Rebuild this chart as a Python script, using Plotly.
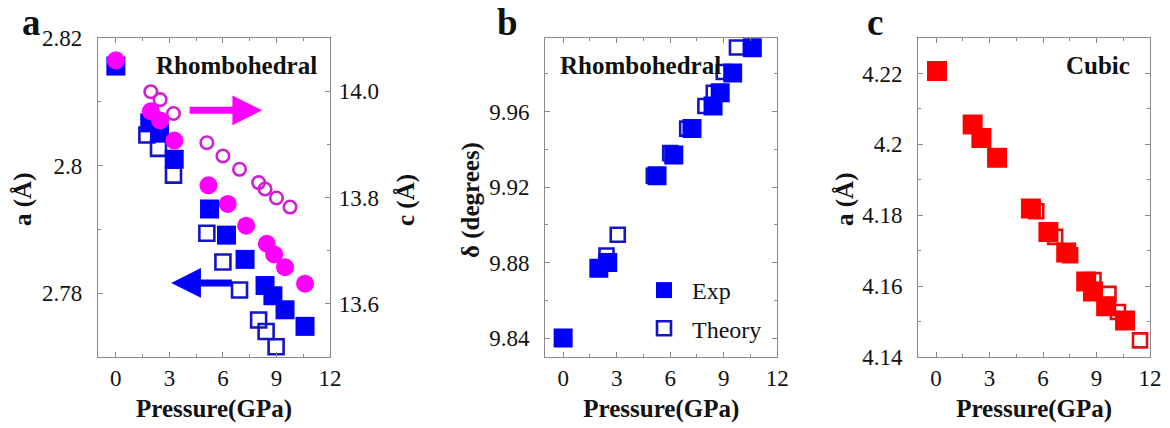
import plotly.graph_objects as go

# ---------------- data ----------------
# Panel a : rhombohedral lattice parameters
a_exp_p = [0, 1.9, 2.45, 3.27, 5.25, 6.2, 7.24, 8.36, 8.8, 9.48, 10.6]
a_exp = [2.8156, 2.8067, 2.8051, 2.8010, 2.7932, 2.7891, 2.7853, 2.7812, 2.7796, 2.7774, 2.7748]
a_th_p = [1.74, 2.39, 3.23, 5.1, 6.0, 6.93, 8.0, 8.42, 8.98]
a_th = [2.8048, 2.8027, 2.7985, 2.7894, 2.7849, 2.7805, 2.7758, 2.7740, 2.7716]
c_exp_p = [0, 1.96, 2.48, 3.28, 5.19, 6.27, 7.3, 8.46, 8.87, 9.48, 10.6]
c_exp = [14.058, 13.962, 13.945, 13.907, 13.823, 13.788, 13.747, 13.713, 13.693, 13.669, 13.638]
c_th_p = [1.96, 2.48, 3.23, 5.1, 6.0, 6.93, 8.0, 8.36, 9.0, 9.76]
c_th = [13.999, 13.984, 13.958, 13.903, 13.878, 13.853, 13.828, 13.816, 13.799, 13.782]

# Panel b : rhombohedral angle delta
d_exp_p = [0, 2.0, 2.5, 5.26, 6.2, 7.22, 8.4, 8.8, 9.5, 10.6]
d_exp = [9.840, 9.877, 9.880, 9.926, 9.937, 9.951, 9.963, 9.970, 9.9805, 9.9938]
d_th_p = [2.43, 3.06, 5.08, 6.0, 6.95, 7.97, 8.44, 9.0, 9.74]
d_th = [9.8838, 9.8948, 9.926, 9.938, 9.951, 9.963, 9.970, 9.981, 9.994]

# Panel c : cubic lattice parameter
cu_exp_p = [0.05, 2.05, 2.54, 3.42, 5.32, 6.3, 7.3, 8.42, 8.8, 9.54, 10.6]
cu_exp = [4.2207, 4.2056, 4.2018, 4.1962, 4.1819, 4.1753, 4.1695, 4.1613, 4.1585, 4.1543, 4.1503]
cu_th_p = [5.62, 6.68, 7.52, 8.83, 9.67, 10.2, 11.44]
cu_th = [4.1811, 4.1739, 4.1687, 4.1617, 4.1578, 4.1527, 4.1447]

# ---------------- styling ----------------
SERIF = "'Liberation Serif', 'Times New Roman', Times, serif"
BLUE = "#0000FF"
BLUE_OPEN = "#1515C8"
MAG = "#FF00FF"
MAG_OPEN = "#D21ED2"
RED = "#FF0000"
RED_OPEN = "#E01010"
AXC = "#8a8a8a"

W, H = 1170, 428
ydom = [1 - 357 / H, 1 - 38 / H]
xdom_a = [98 / W, 330 / W]
xdom_b = [545.3 / W, 777.3 / W]
xdom_c = [918.3 / W, 1150 / W]

tickfont = dict(family=SERIF, size=23, color="#111")
titlefont = dict(family=SERIF, size=25, color="#111", weight="bold")


def sq_filled(color, size=19):
    return dict(symbol="square", size=size, color=color, line=dict(width=0))


def sq_open(color, size=14):
    return dict(symbol="square-open", size=size, color=color, line=dict(width=2.6, color=color))


fig = go.Figure()

# panel a
fig.add_trace(go.Scatter(x=a_th_p, y=a_th, mode="markers", marker=sq_open(BLUE_OPEN, 15),
                         xaxis="x", yaxis="y", showlegend=False))
fig.add_trace(go.Scatter(x=a_exp_p, y=a_exp, mode="markers", marker=sq_filled(BLUE, 19),
                         xaxis="x", yaxis="y", showlegend=False))
fig.add_trace(go.Scatter(x=c_th_p, y=c_th, mode="markers",
                         marker=dict(symbol="circle-open", size=12.5, color=MAG_OPEN,
                                     line=dict(width=2.6, color=MAG_OPEN)),
                         xaxis="x", yaxis="y2", showlegend=False))
fig.add_trace(go.Scatter(x=c_exp_p, y=c_exp, mode="markers",
                         marker=dict(symbol="circle", size=18, color=MAG, line=dict(width=0)),
                         xaxis="x", yaxis="y2", showlegend=False))

# panel b
fig.add_trace(go.Scatter(x=d_th_p, y=d_th, mode="markers", marker=sq_open(BLUE_OPEN, 14),
                         xaxis="x2", yaxis="y3", name="Theory", legendgroup="th",
                         legendrank=2))
fig.add_trace(go.Scatter(x=d_exp_p, y=d_exp, mode="markers", marker=sq_filled(BLUE, 19),
                         xaxis="x2", yaxis="y3", name="Exp", legendgroup="exp",
                         legendrank=1))

# panel c
fig.add_trace(go.Scatter(x=cu_th_p, y=cu_th, mode="markers", marker=sq_open(RED_OPEN, 14),
                         xaxis="x3", yaxis="y4", showlegend=False))
fig.add_trace(go.Scatter(x=cu_exp_p, y=cu_exp, mode="markers", marker=sq_filled(RED, 20),
                         xaxis="x3", yaxis="y4", showlegend=False))


def xax(domain, anchor):
    return dict(domain=domain, anchor=anchor, range=[-1, 12], tick0=0, dtick=3,
                ticks="inside", ticklen=5, tickcolor=AXC, showline=True, linecolor=AXC,
                linewidth=1.2, mirror="ticks", showgrid=False, zeroline=False,
                tickfont=tickfont, ticklabelstandoff=0,
                minor=dict(dtick=1.5, tick0=0, ticks="inside", ticklen=3, tickcolor=AXC),
                title=dict(text="Pressure(GPa)", font=titlefont, standoff=9))


def yax(domain, anchor, rng, tick0, dtick, mdtick, mirror="ticks", side="left",
        overlaying=None, fmt=None, standoff=10):
    d = dict(domain=domain, anchor=anchor, range=rng, tick0=tick0, dtick=dtick,
             ticks="inside", ticklen=5, tickcolor=AXC, showline=True, linecolor=AXC,
             linewidth=1.2, mirror=mirror, showgrid=False, zeroline=False, side=side,
             tickfont=tickfont, ticklabelstandoff=standoff,
             minor=dict(dtick=mdtick, tick0=tick0, ticks="inside", ticklen=3, tickcolor=AXC))
    if overlaying:
        d["overlaying"] = overlaying
    if fmt:
        d["tickformat"] = fmt
    return d


fig.update_layout(
    width=W, height=H,
    margin=dict(l=0, r=0, t=0, b=0, autoexpand=False),
    paper_bgcolor="white", plot_bgcolor="white",
    font=dict(family=SERIF, color="#111"),
    xaxis=xax(xdom_a, "y"),
    yaxis=yax(ydom, "x", [2.77, 2.82], 2.78, 0.02, 0.01, mirror=False),
    yaxis2=yax(ydom, "x", [13.5, 14.1], 13.6, 0.2, 0.1, mirror=False,
               side="right", overlaying="y", fmt=".1f", standoff=3),
    xaxis2=xax(xdom_b, "y3"),
    yaxis3=yax(ydom, "x2", [9.83, 9.999], 9.84, 0.04, 0.02),
    xaxis3=xax(xdom_c, "y4"),
    yaxis4=yax(ydom, "x3", [4.14, 4.23], 4.14, 0.02, 0.01),
    showlegend=True,
    legend=dict(x=636 / W, y=1 - 268 / H, xanchor="left", yanchor="top",
                bgcolor="rgba(0,0,0,0)", font=dict(family=SERIF, size=24, color="#111"),
                tracegroupgap=4, itemsizing="trace", itemwidth=46),
)

ann_font = dict(family=SERIF, size=25, color="#111", weight="bold")
letter_font = dict(family=SERIF, size=37, color="#111", weight="bold")
ytitle_y = 1 - 200 / H
annotations = [
    # y-axis titles
    dict(text="a (Å)", xref="paper", yref="paper", x=23 / W, y=ytitle_y, textangle=-90,
         xanchor="center", yanchor="middle", showarrow=False, font=titlefont),
    dict(text="c (Å)", xref="paper", yref="paper", x=406 / W, y=ytitle_y, textangle=-90,
         xanchor="center", yanchor="middle", showarrow=False, font=titlefont),
    dict(text="δ (degrees)", xref="paper", yref="paper", x=471 / W, y=ytitle_y, textangle=-90,
         xanchor="center", yanchor="middle", showarrow=False, font=titlefont),
    dict(text="a (Å)", xref="paper", yref="paper", x=845 / W, y=ytitle_y, textangle=-90,
         xanchor="center", yanchor="middle", showarrow=False, font=titlefont),
    # phase labels
    dict(text="Rhombohedral", xref="x domain", yref="y domain", x=0.241, y=0.915,
         xanchor="left", yanchor="middle", showarrow=False, font=ann_font),
    dict(text="Rhombohedral", xref="x2 domain", yref="y3 domain", x=0.055, y=0.915,
         xanchor="left", yanchor="middle", showarrow=False, font=ann_font),
    dict(text="Cubic", xref="x3 domain", yref="y4 domain", x=0.629, y=0.915,
         xanchor="left", yanchor="middle", showarrow=False, font=ann_font),
    # panel letters
    dict(text="a", xref="paper", yref="paper", x=20 / W, y=1.0,
         xanchor="left", yanchor="top", showarrow=False, font=letter_font),
    dict(text="b", xref="paper", yref="paper", x=495 / W, y=1.0,
         xanchor="left", yanchor="top", showarrow=False, font=letter_font),
    dict(text="c", xref="paper", yref="paper", x=865 / W, y=1.0,
         xanchor="left", yanchor="top", showarrow=False, font=letter_font),
    # arrows indicating which axis each series uses
    dict(text="", xref="x", yref="y2", axref="x", ayref="y2",
         x=8.2, y=13.964, ax=4.05, ay=13.964, showarrow=True,
         arrowhead=2, arrowsize=0.85, arrowwidth=7, arrowcolor=MAG),
    dict(text="", xref="x", yref="y", axref="x", ayref="y",
         x=3.1, y=2.7816, ax=6.58, ay=2.7816, showarrow=True,
         arrowhead=2, arrowsize=0.85, arrowwidth=7, arrowcolor=BLUE),
]
fig.update_layout(annotations=annotations)

fig.write_html("out.html")
